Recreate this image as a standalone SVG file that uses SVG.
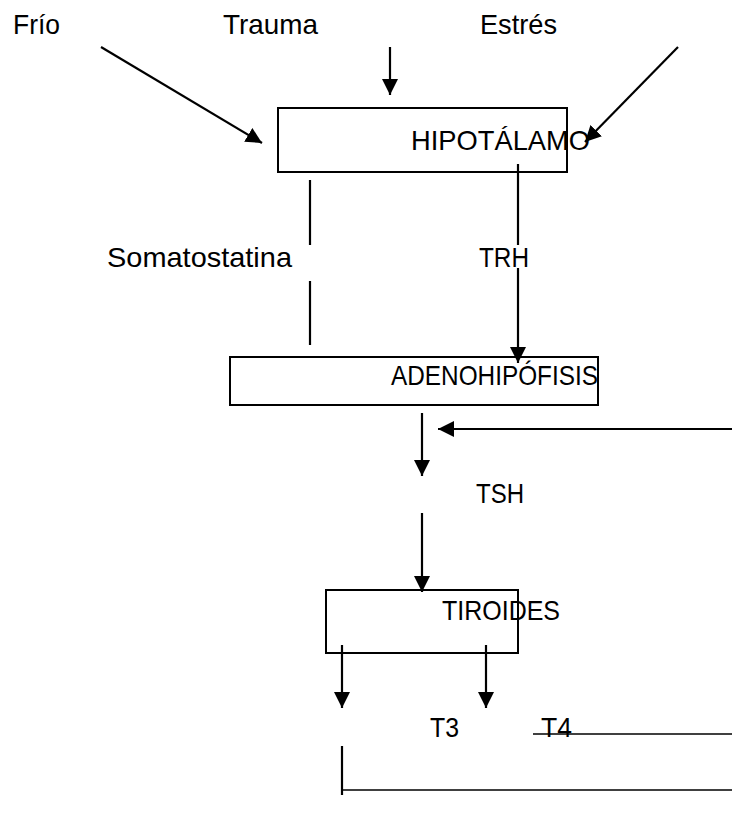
<svg xmlns="http://www.w3.org/2000/svg" width="732" height="827" viewBox="0 0 732 827">
  <style>
    .box { fill: none; stroke: #000; stroke-width: 2; }
    .lbl { font-family: "Liberation Sans", Arial, sans-serif; font-size: 28px; fill: #000; }
    .ln { fill: none; stroke: #000; stroke-width: 2.2; }
    .thin { fill: none; stroke: #000; stroke-width: 1.6; }
    .arr { marker-end: url(#head); }
  </style>
  <defs>
    <marker id="head" markerUnits="userSpaceOnUse" markerWidth="17" markerHeight="17" viewBox="0 0 17 17" refX="16" refY="8.5" orient="auto">
      <path d="M0,0.5 L16,8.5 L0,16.5 Z" fill="#000"/>
    </marker>
  </defs>
  <rect width="732" height="827" fill="#fff"/>

  <!-- stimuli -->
  <g id="frio"><text class="lbl" x="13" y="34" textLength="47" lengthAdjust="spacingAndGlyphs">Frío</text></g>
  <g id="trauma"><text class="lbl" x="223" y="34" textLength="95" lengthAdjust="spacingAndGlyphs">Trauma</text></g>
  <g id="estres"><text class="lbl" x="480" y="34" textLength="77" lengthAdjust="spacingAndGlyphs">Estrés</text></g>

  <!-- glands -->
  <g id="hipotalamo">
    <rect class="box" x="278" y="108" width="289" height="64"/>
    <text class="lbl" x="411" y="150" textLength="179" lengthAdjust="spacingAndGlyphs">HIPOTÁLAMO</text>
  </g>
  <g id="adenohipofisis">
    <rect class="box" x="230" y="357" width="368" height="48"/>
    <text class="lbl" x="391" y="385" textLength="207" lengthAdjust="spacingAndGlyphs">ADENOHIPÓFISIS</text>
  </g>
  <g id="tiroides">
    <rect class="box" x="326" y="590" width="192" height="63"/>
    <text class="lbl" x="442" y="620" textLength="118" lengthAdjust="spacingAndGlyphs">TIROIDES</text>
  </g>

  <!-- hormones -->
  <g id="somatostatina"><text class="lbl" x="107" y="267" textLength="185" lengthAdjust="spacingAndGlyphs">Somatostatina</text></g>
  <g id="trh"><text class="lbl" x="479" y="267" textLength="50" lengthAdjust="spacingAndGlyphs">TRH</text></g>
  <g id="tsh"><text class="lbl" x="476" y="503" textLength="48" lengthAdjust="spacingAndGlyphs">TSH</text></g>
  <g id="t3"><text class="lbl" x="430" y="737" textLength="29" lengthAdjust="spacingAndGlyphs">T3</text></g>
  <g id="t4"><text class="lbl" x="541" y="737" textLength="31" lengthAdjust="spacingAndGlyphs">T4</text></g>

  <!-- connectors -->
  <g id="connectors">
    <line class="ln arr" x1="101" y1="47" x2="262" y2="143"/>
    <line class="ln arr" x1="390" y1="47" x2="390" y2="95"/>
    <line class="ln arr" x1="678" y1="47" x2="585" y2="142"/>

    <line class="ln" x1="310" y1="180" x2="310" y2="245"/>
    <line class="ln" x1="310" y1="281" x2="310" y2="345"/>

    <line class="ln" x1="518" y1="164" x2="518" y2="245"/>
    <line class="ln arr" x1="518" y1="268" x2="518" y2="363"/>

    <line class="ln arr" x1="422" y1="413" x2="422" y2="476"/>
    <line class="ln arr" x1="732" y1="429" x2="438" y2="429"/>
    <line class="ln arr" x1="422" y1="513" x2="422" y2="592"/>

    <line class="ln arr" x1="342" y1="645" x2="342" y2="708"/>
    <line class="ln arr" x1="486" y1="645" x2="486" y2="708"/>

    <line class="thin" x1="533" y1="734" x2="732" y2="734"/>
    <line class="ln" x1="342" y1="746" x2="342" y2="795"/>
    <line class="thin" x1="342" y1="790" x2="732" y2="790"/>
  </g>
</svg>
